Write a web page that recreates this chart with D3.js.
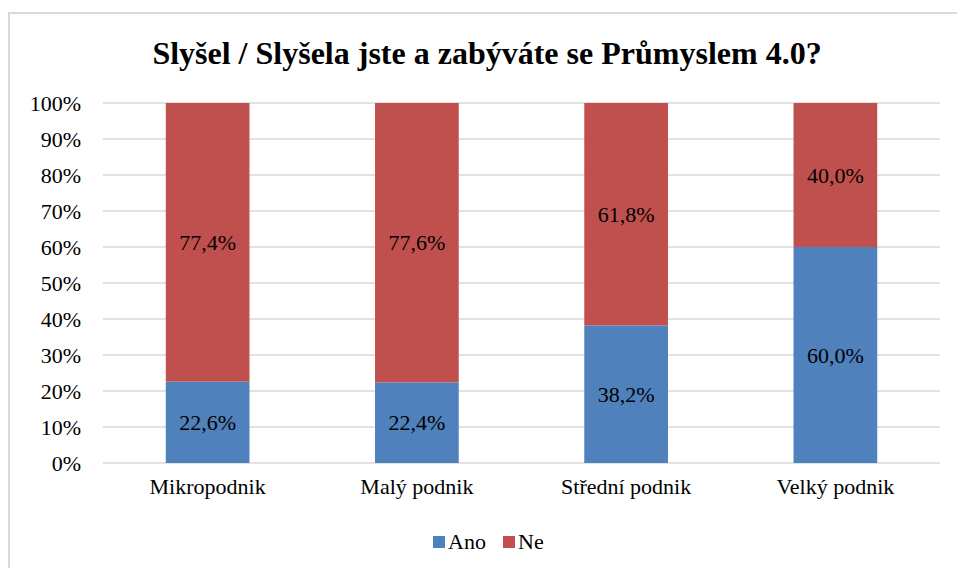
<!DOCTYPE html>
<html><head><meta charset="utf-8">
<script src="https://cdn.jsdelivr.net/npm/d3@7"></script>
<style>body{margin:0;background:#fff}svg{display:block}</style>
</head><body>
<svg id="c" width="957" height="568"></svg>
<script>
const title = "Slyšel / Slyšela jste a zabýváte se Průmyslem 4.0?";
const categories = ["Mikropodnik", "Malý podnik", "Střední podnik", "Velký podnik"];
const seriesNames = ["Ano", "Ne"];
const ano = [22.6, 22.4, 38.2, 60.0];
const ne = [77.4, 77.6, 61.8, 40.0];
const yTicks = [0, 10, 20, 30, 40, 50, 60, 70, 80, 90, 100];
const colors = ["#4F81BD", "#C0504D"];
const FONT = "'Liberation Serif', 'Times New Roman', 'Liberation Sans', Arial, sans-serif";
const FS = 22;

const svg = d3.select("#c");
svg.append("rect").attr("x", 9).attr("y", 13).attr("width", 960).attr("height", 570)
  .attr("fill", "#fff").attr("stroke", "#d9d9d9").attr("stroke-width", 2);

const x = d3.scaleBand().domain(categories).range([103, 940]).paddingInner(0.6).paddingOuter(0.3);
const y = d3.scaleLinear().domain([0, 100]).range([463, 103]);

svg.append("text").attr("x", 487).attr("y", 64).attr("text-anchor", "middle")
  .attr("font-family", FONT).attr("font-size", 32).attr("font-weight", "bold").text(title);

svg.append("g").selectAll("line").data(yTicks).join("line")
  .attr("x1", 103).attr("x2", 940).attr("y1", d => y(d)).attr("y2", d => y(d))
  .attr("stroke", "#d9d9d9").attr("stroke-width", 1.5);

const yAxis = d3.axisLeft(y).tickValues(yTicks).tickFormat(d => d + "%").tickSize(0).tickPadding(0);
const ya = svg.append("g").attr("transform", "translate(81,0)").call(yAxis);
ya.select(".domain").remove();
ya.attr("font-family", FONT);
ya.selectAll("text").attr("font-size", FS).attr("fill", "#000").attr("dy", "0.35em");

const table = categories.map((c, i) => ({ cat: c, Ano: ano[i], Ne: ne[i] }));
const stack = d3.stack().keys(seriesNames)(table);

const g = svg.append("g");
stack.forEach((s, si) => {
  g.append("g").selectAll("rect").data(s).join("rect")
    .attr("x", d => x(d.data.cat)).attr("width", x.bandwidth())
    .attr("y", d => y(d[1])).attr("height", d => y(d[0]) - y(d[1]))
    .attr("fill", colors[si]);
  g.append("g").selectAll("text").data(s).join("text")
    .attr("x", d => x(d.data.cat) + x.bandwidth() / 2)
    .attr("y", d => y((d[0] + d[1]) / 2))
    .attr("font-family", FONT)
    .attr("dy", "0.35em").attr("text-anchor", "middle").attr("font-size", FS)
    .text(d => (d[1] - d[0]).toFixed(1).replace(".", ",") + "%");
});

const xAxis = d3.axisBottom(x).tickSize(0).tickPadding(0);
const xa = svg.append("g").attr("transform", "translate(0,463)").call(xAxis);
xa.select(".domain").remove();
xa.attr("font-family", FONT);
xa.selectAll("text").attr("font-size", FS).attr("fill", "#000").attr("dy", "1.4em");

const leg = svg.append("g");
const legX = [433, 503];
seriesNames.forEach((n, i) => {
  leg.append("rect").attr("x", legX[i]).attr("y", 536).attr("width", 12).attr("height", 12).attr("fill", colors[i]);
  leg.append("text").attr("x", legX[i] + 15).attr("y", 549).attr("font-family", FONT).attr("font-size", FS).text(n);
});
</script>
</body></html>
